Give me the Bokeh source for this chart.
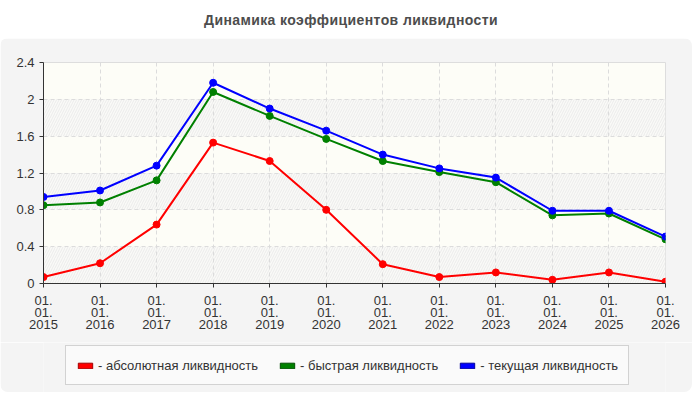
from bokeh.plotting import figure
from bokeh.models import (ColumnDataSource, FixedTicker, Legend, LegendItem,
                          BoxAnnotation, Div, Range1d)
from bokeh.layouts import column
from bokeh.embed import file_html
from bokeh.resources import INLINE

title_text = "Динамика коэффициентов ликвидности"
years = [2015, 2016, 2017, 2018, 2019, 2020, 2021, 2022, 2023, 2024, 2025, 2026]
x_tick_labels = ["01.\n01.\n%d" % y for y in years]
absolute_liq = [0.07, 0.22, 0.64, 1.53, 1.33, 0.80, 0.21, 0.07, 0.12, 0.04, 0.12, 0.02]
quick_liq = [0.85, 0.88, 1.12, 2.08, 1.82, 1.57, 1.33, 1.21, 1.10, 0.74, 0.76, 0.48]
current_liq = [0.94, 1.01, 1.28, 2.18, 1.90, 1.66, 1.40, 1.25, 1.15, 0.79, 0.79, 0.51]
y_ticks = [0, 0.4, 0.8, 1.2, 1.6, 2.0, 2.4]
y_tick_labels = ["0", "0.4", "0.8", "1.2", "1.6", "2", "2.4"]
series_names = ["- абсолютная ликвидность", "- быстрая ликвидность", "- текущая ликвидность"]
series_values = [absolute_liq, quick_liq, current_liq]
colors = ["#ff0000", "#008000", "#0000ff"]
swatch_borders = ["#a00000", "#004d00", "#00009a"]

FONT = "Liberation Sans"
W = 692
PANEL = "#f4f4f4"

title_div = Div(text=title_text, width=W, height=28,
                styles={"font-family": FONT, "font-weight": "bold", "font-size": "14px",
                        "letter-spacing": "0.4px",
                        "color": "#4d4d4d", "text-align": "center", "width": "%dpx" % W,
                        "line-height": "30px", "background": "#ffffff"})

p = figure(width=W, height=304, output_backend="svg", toolbar_location=None,
           x_range=Range1d(years[0], years[-1]), y_range=Range1d(0, 2.4),
           min_border_left=43, min_border_right=27, min_border_top=24, min_border_bottom=59)
p.styles = {"border-top-left-radius": "8px", "border-top-right-radius": "8px", "overflow": "hidden"}
p.border_fill_color = PANEL
p.background_fill_color = "#fdfdf7"
p.outline_line_color = "#dddddd"

for lo, hi in [(0, 0.4), (0.8, 1.2), (1.6, 2.0)]:
    p.add_layout(BoxAnnotation(bottom=lo, top=hi, fill_color="#fafaf7", fill_alpha=1.0,
                               hatch_pattern="/", hatch_color="#ebebeb", hatch_alpha=1.0,
                               hatch_scale=5, hatch_weight=1, line_color=None, level="image"))

for ax in (p.xaxis[0], p.yaxis[0]):
    ax.axis_line_color = "#333333"
    ax.major_tick_line_color = "#333333"
    ax.minor_tick_line_color = None
    ax.major_tick_in = 0
    ax.major_tick_out = 4
    ax.major_label_text_font = FONT
    ax.major_label_text_font_size = "13px"
    ax.major_label_text_color = "#333333"

p.xaxis.ticker = FixedTicker(ticks=years)
p.xaxis.major_label_overrides = {y: lab for y, lab in zip(years, x_tick_labels)}
p.xaxis.major_label_standoff = 5
p.xaxis.major_label_text_line_height = 0.8
p.yaxis.ticker = FixedTicker(ticks=y_ticks)
p.yaxis.major_label_overrides = {t: lab for t, lab in zip(y_ticks, y_tick_labels)}
p.yaxis.major_label_standoff = 5

for g in (p.xgrid[0], p.ygrid[0]):
    g.grid_line_color = "#dcdcdc"
    g.grid_line_dash = "4 3"
    g.grid_line_width = 1

for vals, col in zip(series_values, colors):
    src = ColumnDataSource(dict(x=years, y=vals))
    p.line("x", "y", source=src, line_color=col, line_width=2)
    p.scatter("x", "y", source=src, size=7, fill_color=col, line_color=col)

# legend strip below the chart
lf = figure(width=W, height=50, output_backend="svg", toolbar_location=None,
            x_range=Range1d(0, 1), y_range=Range1d(0, 1),
            x_axis_location=None, y_axis_location=None,
            min_border=0, min_border_left=0, min_border_right=0,
            min_border_top=0, min_border_bottom=0)
lf.styles = {"border-bottom-left-radius": "8px", "border-bottom-right-radius": "8px", "overflow": "hidden"}
lf.grid.visible = False
lf.outline_line_color = None
lf.border_fill_color = PANEL
lf.background_fill_color = PANEL

items = []
for name, col, bcol in zip(series_names, colors, swatch_borders):
    sw = lf.quad(left=[5], right=[6], top=[6], bottom=[5], fill_color=col, line_color=bcol)
    items.append(LegendItem(label=name, renderers=[sw]))

legend = Legend(items=items, orientation="horizontal", location=(22, 7),
                label_text_font=FONT, label_text_font_size="13px", label_text_color="#333333",
                glyph_width=18, glyph_height=7, label_standoff=4, spacing=20,
                padding=10, margin=0, label_height=18,
                background_fill_color="#fafafa", background_fill_alpha=1.0,
                border_line_color="#aaaaaa", border_line_width=1)
lf.add_layout(legend, "center")

layout = column(title_div, p, lf, spacing=0)
open("out.html", "w").write(file_html(layout, INLINE))
